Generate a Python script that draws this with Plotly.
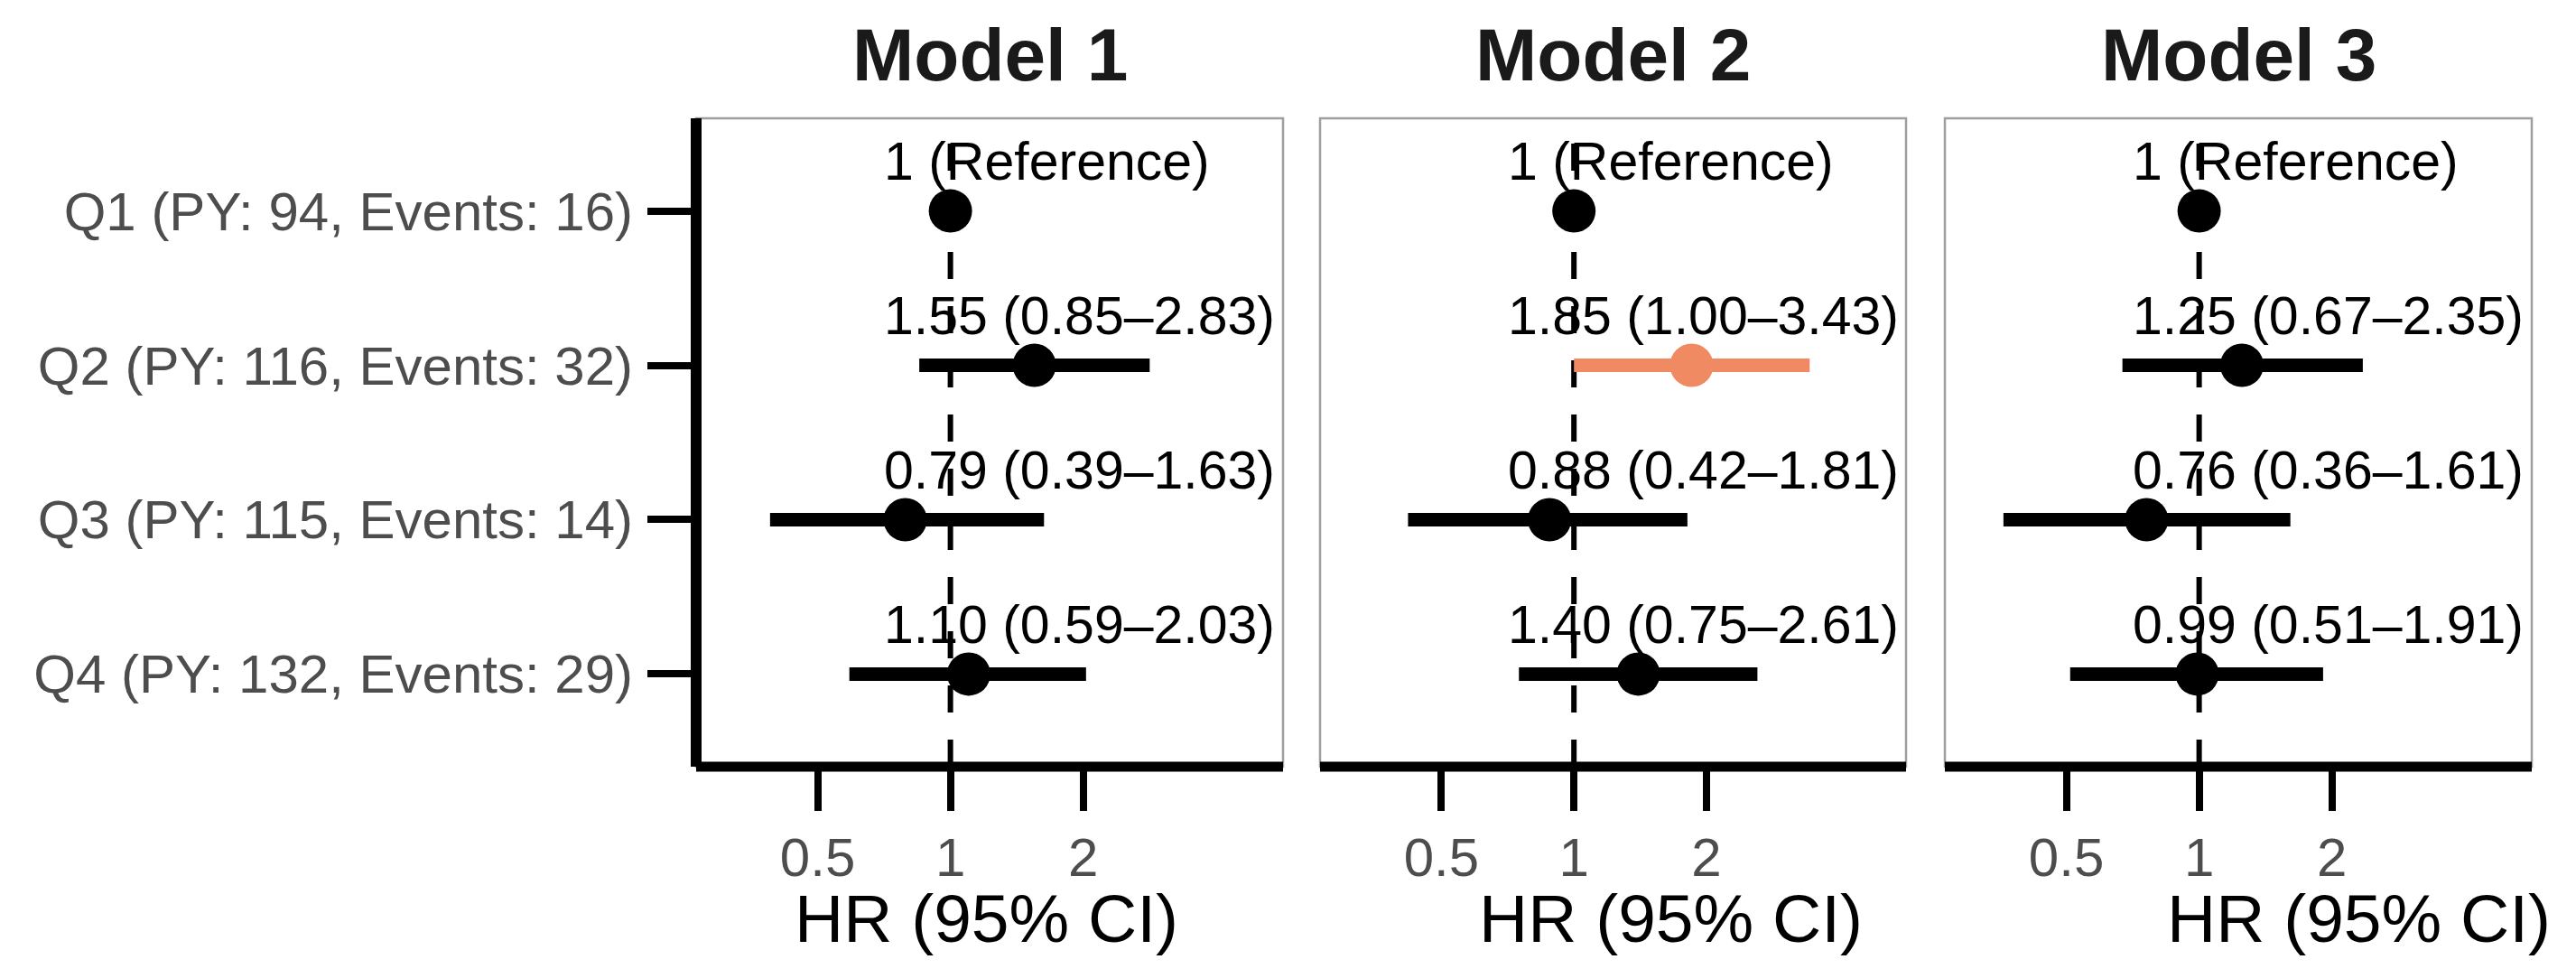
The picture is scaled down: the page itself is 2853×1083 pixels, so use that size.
import math
import plotly.graph_objects as go

# ---------------- data ----------------
categories = ["Q1 (PY: 94, Events: 16)", "Q2 (PY: 116, Events: 32)",
              "Q3 (PY: 115, Events: 14)", "Q4 (PY: 132, Events: 29)"]
models = ["Model 1", "Model 2", "Model 3"]

hr_m1 = [1.00, 1.55, 0.79, 1.10]
lo_m1 = [1.00, 0.85, 0.39, 0.59]
hi_m1 = [1.00, 2.83, 1.63, 2.03]

hr_m2 = [1.00, 1.85, 0.88, 1.40]
lo_m2 = [1.00, 1.00, 0.42, 0.75]
hi_m2 = [1.00, 3.43, 1.81, 2.61]

hr_m3 = [1.00, 1.25, 0.76, 0.99]
lo_m3 = [1.00, 0.67, 0.36, 0.51]
hi_m3 = [1.00, 2.35, 1.61, 1.91]

labels_m1 = ["1 (Reference)", "1.55 (0.85–2.83)", "0.79 (0.39–1.63)", "1.10 (0.59–2.03)"]
labels_m2 = ["1 (Reference)", "1.85 (1.00–3.43)", "0.88 (0.42–1.81)", "1.40 (0.75–2.61)"]
labels_m3 = ["1 (Reference)", "1.25 (0.67–2.35)", "0.76 (0.36–1.61)", "0.99 (0.51–1.91)"]

x_tickvals = [0.5, 1, 2]
x_ticktext = ["0.5", "1", "2"]
label_x = 0.7          # HR value where the text labels start
x_title = "HR (95% CI)"

# ---------------- layout constants ----------------
OFF = 8                      # default page body margin
W, H = 2853 - 2 * OFF, 1083 - 2 * OFF
FONT = "Liberation Sans, Arial, Helvetica, sans-serif"
BLACK = "#000000"
GREY_TXT = "#4D4D4D"
HIGHLIGHT = "#EF8A62"

panels_px = [(771, 1421), (1462, 2111), (2154, 2804)]
top_px, bot_px = 131, 849
xrange_log = [-0.5765, 0.7541]
xtitle_centers_px = [1092, 1851, 2612]


def fx(p):
    return (p - OFF) / W


def fy(p):
    return 1 - (p - OFF) / H


ydomain = [fy(bot_px), fy(top_px)]
ypos = [i + 1 for i in range(len(categories))]

fig = go.Figure()

data = [(hr_m1, lo_m1, hi_m1, labels_m1),
        (hr_m2, lo_m2, hi_m2, labels_m2),
        (hr_m3, lo_m3, hi_m3, labels_m3)]

annotations = []
shapes = []

for i, (hr, lo, hi, labs) in enumerate(data):
    k = "" if i == 0 else str(i + 1)
    xa, ya = "x" + k, "y" + k
    reg = [j for j in range(len(hr)) if not (lo[j] >= 1.0 and hr[j] > 1.0)]
    sig = [j for j in range(len(hr)) if (lo[j] >= 1.0 and hr[j] > 1.0)]
    for idx, col in ((reg, BLACK), (sig, HIGHLIGHT)):
        if not idx:
            continue
        fig.add_trace(go.Scatter(
            x=[hr[j] for j in idx], y=[ypos[j] for j in idx],
            mode="markers",
            marker=dict(size=48, color=col, line=dict(width=0)),
            error_x=dict(type="data", symmetric=False,
                         array=[hi[j] - hr[j] for j in idx],
                         arrayminus=[hr[j] - lo[j] for j in idx],
                         color=col, thickness=15, width=0),
            xaxis=xa, yaxis=ya, showlegend=False, hoverinfo="skip"))
    # text labels
    for j, t in enumerate(labs):
        annotations.append(dict(
            x=math.log10(label_x), y=ypos[j] - 0.32, xref=xa, yref=ya,
            text=t, showarrow=False, xanchor="left", yanchor="middle",
            font=dict(family=FONT, size=59, color=BLACK)))
    # panel title
    x0, x1 = panels_px[i]
    annotations.append(dict(
        x=fx((x0 + x1) / 2), y=fy(61), xref="paper", yref="paper",
        text="<b>" + models[i] + "</b>", showarrow=False,
        xanchor="center", yanchor="middle",
        font=dict(family=FONT, size=82, color="#1A1A1A")))
    # x axis title
    annotations.append(dict(
        x=fx(xtitle_centers_px[i]), y=fy(1017), xref="paper", yref="paper",
        text=x_title, showarrow=False, xanchor="center", yanchor="middle",
        font=dict(family=FONT, size=75, color=BLACK)))

    # reference dashed line at HR = 1
    shapes.append(dict(type="line", xref=xa, yref=ya + " domain",
                       x0=1, x1=1, y0=0, y1=1, layer="below",
                       line=dict(color=BLACK, width=6, dash="30px,30px")))
    # grey panel border
    shapes.append(dict(type="rect", xref=xa + " domain", yref=ya + " domain",
                       x0=0, x1=1, y0=0, y1=1, layer="above",
                       line=dict(color="#9E9E9E", width=2.5)))
    # black bottom axis line
    shapes.append(dict(type="line", xref=xa + " domain", yref=ya + " domain",
                       x0=0, x1=1, y0=0, y1=0, layer="above",
                       line=dict(color=BLACK, width=11)))
    if i == 0:
        shapes.append(dict(type="line", xref=xa + " domain", yref=ya + " domain",
                           x0=0, x1=0, y0=0, y1=1, layer="above",
                           line=dict(color=BLACK, width=12)))

    xax = dict(type="log", range=xrange_log, domain=[fx(x0), fx(x1)], anchor=ya,
               tickvals=x_tickvals, ticktext=x_ticktext, ticks="outside",
               ticklen=48, tickwidth=8, tickcolor=BLACK, showgrid=False,
               zeroline=False, showline=False, ticklabelstandoff=0,
               tickfont=dict(family=FONT, size=60, color=GREY_TXT), fixedrange=True)
    yax = dict(range=[4.6, 0.4], domain=ydomain, anchor=xa, showgrid=False,
               zeroline=False, showline=False, fixedrange=True)
    if i == 0:
        yax.update(tickvals=ypos, ticktext=categories, ticks="outside",
                   ticklen=53, tickwidth=8, tickcolor=BLACK, ticklabelstandoff=4,
                   tickfont=dict(family=FONT, size=60, color=GREY_TXT))
    else:
        yax.update(showticklabels=False, ticks="")
    fig.update_layout(**{"xaxis" + k: xax, "yaxis" + k: yax})

fig.update_layout(
    width=W, height=H, margin=dict(l=0, r=0, t=0, b=0),
    paper_bgcolor="white", plot_bgcolor="white",
    annotations=annotations, shapes=shapes, showlegend=False,
    font=dict(family=FONT))

fig.write_html("out.html")
